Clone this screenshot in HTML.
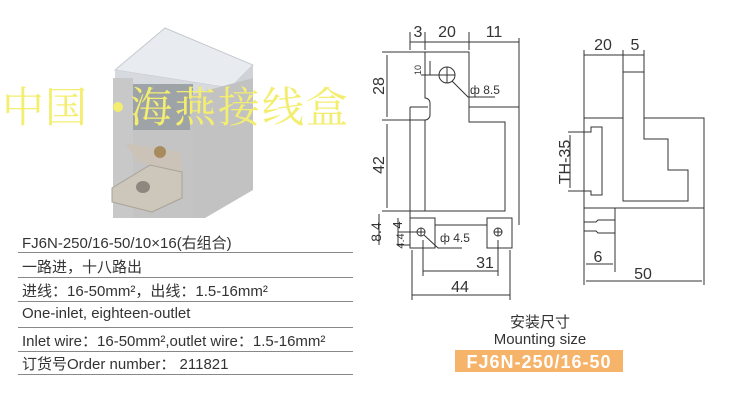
<!DOCTYPE html>
<html><head><meta charset="utf-8"><style>
body{margin:0;background:#fff;width:739px;height:408px;overflow:hidden;position:relative;font-family:"Liberation Sans","Noto Sans CJK SC",sans-serif}
.r{position:absolute;left:22px;font-size:15px;color:#333;white-space:nowrap}
.ln{position:absolute;left:18px;width:335px;height:1px;background:#888}
</style></head><body>
<svg width="739" height="408" style="position:absolute;left:0;top:0" font-family="Liberation Sans, sans-serif">
<!-- photo -->
<polygon points="115,70 165,28 253,65 230,88" fill="#e8ebef" stroke="#c6cace"/>
<polygon points="115,70 230,88 230,100 115,82" fill="#d6d9de"/>
<polygon points="230,88 253,65 253,78 230,100" fill="#cfd3d8"/>
<rect x="113" y="78" width="20" height="140" fill="#c8c8c8"/>
<rect x="133" y="84" width="60" height="50" fill="#9ea3a8"/>
<polygon points="190,95 253,78 253,190 205,218 190,218" fill="#c2c2c2"/>
<rect x="133" y="130" width="60" height="88" fill="#c4c4c4"/>
<polygon points="125,143 180,152 182,172 138,162" fill="#cbc3b7"/>
<polygon points="112,188 150,165 182,172 182,198 152,212 112,202" fill="#cdc6ba" stroke="#a9a296"/>
<ellipse cx="143" cy="187" rx="7" ry="6" fill="#8d877f"/>
<circle cx="160" cy="152" r="6" fill="#a88b5e"/>
<text x="2" y="122" font-size="42" fill="#f3ee70" font-family="Noto Serif CJK SC, serif" letter-spacing="1">中国</text>
<circle cx="118" cy="107" r="5" fill="#f3ee70"/>
<text x="130" y="122" font-size="42" fill="#f3ee70" font-family="Noto Serif CJK SC, serif" letter-spacing="2">海燕接线盒</text>
<g stroke="#333" stroke-width="1" fill="none">
<path d="M425,52 V98 A5,5 0 0 1 430,103 V115 A5,5 0 0 1 425,120 V211 H505 V122 H469 V52 Z"/>
<path d="M410,107 H428 M469,107 H519 M410,107 V225 M519,38 V225 M435,225 H487"/>
<rect x="410" y="218" width="25" height="30"/><rect x="487" y="218" width="25" height="30"/>
<circle cx="421" cy="232" r="4"/><circle cx="498" cy="232" r="4"/>
<path d="M417,232 h8 M421,228 v8 M494,232 h8 M498,228 v8"/>
<circle cx="447" cy="75" r="8"/><path d="M439,75 h16 M447,67 v16 M421,75 H447"/>
<path d="M452,81 L468,97 H495 M424,235 L438,248 H462"/>
<path d="M410,32 V50 M425,32 V50 M469,32 V50 M410,42 H519"/>
<path d="M382,52 H469 M382,120 H425 M382,211 H425"/>
<path d="M387,55 V117 M387,124 V208 M379,214 V245 M398,218 V245 M398,232 H421 M397,245 H410"/>
<path d="M423,240 V276 M498,240 V276 M423,271 H498 M412,295 H510 M412,250 V300 M510,250 V300 M430,61 V75"/>
<path d="M584,50 V285 M584,118 H623 M644,118 H704 V208 H584 M704,190 V285 M623,50 V200 M644,50 V118 M623,72 H644"/>
<path d="M623,118 V201 H688 V170 H668 V139 H644 V118"/>
<path d="M568,132 H591 V127 H602 V195 H591 V191 H568 M570,135 V188"/>
<path d="M615,208 V272 M584,222 H596 L598,220 H615 V233 H598 L596,231 H584"/>
<path d="M584,55 H644 M586,264 H613 M586,281 H702"/>
</g>
<g font-size="16" fill="#333" text-anchor="middle">
<text x="418" y="37">3</text><text x="447" y="37">20</text><text x="494" y="37">11</text>
<text x="485" y="268">31</text><text x="460" y="292">44</text>
<text x="603" y="50">20</text><text x="635" y="50">5</text>
<text x="598" y="262">6</text><text x="643" y="279">50</text>
<text transform="translate(384,86) rotate(-90)">28</text>
<text transform="translate(384,165) rotate(-90)">42</text>
<text transform="translate(381,232) rotate(-90)" font-size="14">8.4</text>
<text transform="translate(402,225) rotate(-90)" font-size="13">4</text>
<text transform="translate(404,241) rotate(-90)" font-size="11">4.4</text>
<text transform="translate(570,162) rotate(-90)">TH-35</text>
<text transform="translate(421,70) rotate(-90)" font-size="9">10</text>
</g>
<text x="470" y="94" font-size="12" fill="#333">ф 8.5</text>
<text x="440" y="242" font-size="12" fill="#333">ф 4.5</text>
<text x="540" y="327" font-size="15" fill="#333" text-anchor="middle" font-family="Noto Sans CJK SC, sans-serif">安装尺寸</text>
<text x="540" y="344" font-size="15" fill="#333" text-anchor="middle">Mounting size</text>
<rect x="455" y="350" width="168" height="22" fill="#f6b36a"/>
<text x="539" y="368" font-size="18" font-weight="bold" fill="#fff" text-anchor="middle" letter-spacing="1">FJ6N-250/16-50</text>
</svg>
<div class="r" style="top:232px">FJ6N-250/16-50/10×16(右组合)</div><div class="ln" style="top:252px"></div>
<div class="r" style="top:256px">一路进，十八路出</div><div class="ln" style="top:277px"></div>
<div class="r" style="top:280px">进线：16-50mm²，出线：1.5-16mm²</div><div class="ln" style="top:301px"></div>
<div class="r" style="top:305px">One-inlet, eighteen-outlet</div><div class="ln" style="top:327px"></div>
<div class="r" style="top:330px">Inlet wire：16-50mm²,outlet wire：1.5-16mm²</div><div class="ln" style="top:351px"></div>
<div class="r" style="top:353px">订货号Order number： 211821</div><div class="ln" style="top:374px"></div>
</body></html>
